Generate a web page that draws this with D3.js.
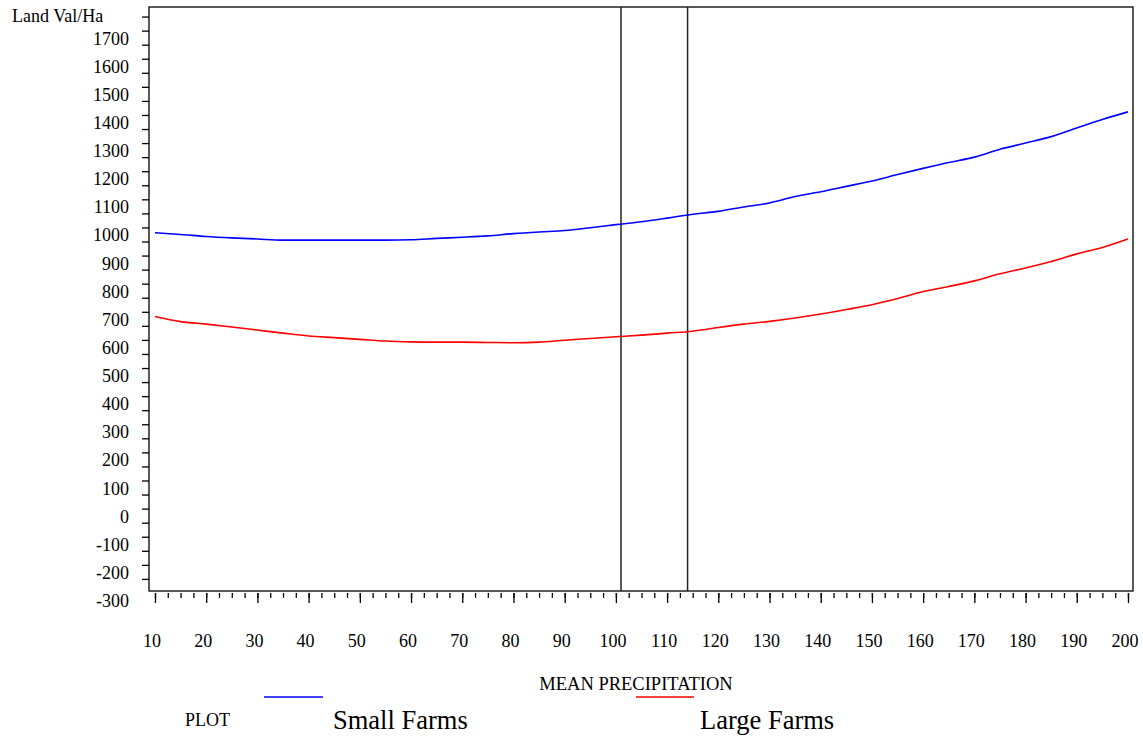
<!DOCTYPE html>
<html>
<head>
<meta charset="utf-8">
<script src="https://cdn.jsdelivr.net/npm/d3@7"></script>
<style>
  body { margin: 0; background: #fff; }
  svg { display: block; font-family: "Liberation Serif", "Times New Roman", serif; }
</style>
</head>
<body>
<svg id="chart" width="1143" height="741"></svg>
<script>
// precipitation values (x)
const precip = [10, 15, 20, 25, 30, 35, 40, 45, 50, 55, 60, 65, 70, 75, 80, 85, 90, 95, 100,
  105, 110, 115, 120, 125, 130, 135, 140, 145, 150, 155, 160, 165, 170, 175, 180, 185, 190, 195, 200];
// land value per hectare
const smallFarms = [1031, 1025, 1018, 1013, 1009, 1005, 1005, 1005, 1005, 1005, 1006, 1011, 1015, 1020,
  1028, 1034, 1039, 1049, 1060, 1070, 1083, 1097, 1107, 1123, 1137, 1160, 1177, 1196, 1215, 1238,
  1260, 1281, 1300, 1328, 1350, 1373, 1404, 1434, 1461];
const largeFarms = [733, 715, 706, 696, 685, 674, 664, 658, 652, 646, 643, 642, 642, 641, 640, 642,
  649, 655, 661, 667, 674, 681, 694, 706, 716, 728, 742, 758, 775, 797, 822, 840, 860, 885, 906,
  929, 956, 979, 1009];
const refLines = [101, 114];
const xLabels = d3.range(10, 201, 10);
const yLabels = d3.range(-300, 1701, 100);
const yTicks = d3.range(-200, 1801, 50);
const xMinorTicks = d3.range(10, 200.1, 2.5);

const svg = d3.select("#chart");
const plotL = 149, plotR = 1133, plotT = 7, plotB = 591;

const x = d3.scaleLinear().domain([8.83, 200.98]).range([plotL, plotR]);
const y = d3.scaleLinear().domain([-243, 1834]).range([plotB, plotT]);

// frame
svg.append("rect")
  .attr("x", plotL).attr("y", plotT)
  .attr("width", plotR - plotL).attr("height", plotB - plotT)
  .attr("fill", "none").attr("stroke", "#000").attr("stroke-width", 1.3);

// y ticks
const yAxis = svg.append("g")
  .attr("transform", `translate(${plotL},0)`)
  .call(d3.axisLeft(y).tickValues(yTicks).tickSize(7).tickFormat(""));
yAxis.select(".domain").remove();
yAxis.selectAll("line").attr("stroke", "#000").attr("stroke-width", 1.3);

svg.append("g").selectAll("text")
  .data(yLabels)
  .join("text")
  .attr("x", 129)
  .attr("y", d => y(d))
  .attr("text-anchor", "end")
  .style("font-size", "18px")
  .text(d => d);

svg.append("text")
  .attr("x", 12).attr("y", 22)
  .style("font-size", "18px")
  .text("Land Val/Ha");

// x ticks
const xMinor = svg.append("g")
  .attr("transform", `translate(0,${plotB + 2})`)
  .call(d3.axisBottom(x).tickValues(xMinorTicks).tickSize(5).tickFormat(""));
xMinor.select(".domain").remove();
xMinor.selectAll("line").attr("stroke", "#000").attr("stroke-width", 1.3);
const xMajor = svg.append("g")
  .attr("transform", `translate(0,${plotB + 2})`)
  .call(d3.axisBottom(x).tickValues(xLabels).tickSize(10).tickFormat(""));
xMajor.select(".domain").remove();
xMajor.selectAll("line").attr("stroke", "#000").attr("stroke-width", 1.3);

svg.append("g").selectAll("text")
  .data(xLabels)
  .join("text")
  .attr("x", d => x(d) - 3)
  .attr("y", 647)
  .attr("text-anchor", "middle")
  .style("font-size", "18px")
  .text(d => d);

// reference lines
svg.append("g").selectAll("line")
  .data(refLines)
  .join("line")
  .attr("x1", d => x(d)).attr("x2", d => x(d))
  .attr("y1", plotT).attr("y2", plotB)
  .attr("stroke", "#222").attr("stroke-width", 1.5);

// series
const line = d3.line()
  .x((d, i) => x(precip[i]))
  .y(d => y(d))
  .curve(d3.curveMonotoneX);

svg.append("path").datum(smallFarms)
  .attr("fill", "none").attr("stroke", "#0000ff").attr("stroke-width", 1.6)
  .attr("d", line);
svg.append("path").datum(largeFarms)
  .attr("fill", "none").attr("stroke", "#ff0000").attr("stroke-width", 1.6)
  .attr("d", line);

// axis title and legend
svg.append("text")
  .attr("x", 636).attr("y", 690)
  .attr("text-anchor", "middle")
  .style("font-size", "18.5px")
  .text("MEAN PRECIPITATION");

svg.append("text")
  .attr("x", 185).attr("y", 726)
  .style("font-size", "18px")
  .text("PLOT");

const legend = [
  {name: "Small Farms", color: "#0000ff", x1: 264, x2: 323, tx: 333},
  {name: "Large Farms", color: "#ff0000", x1: 636, x2: 694, tx: 700}
];
svg.append("g").selectAll("line")
  .data(legend)
  .join("line")
  .attr("x1", d => d.x1).attr("x2", d => d.x2)
  .attr("y1", 697).attr("y2", 697)
  .attr("stroke", d => d.color).attr("stroke-width", 1.6);
svg.append("g").selectAll("text")
  .data(legend)
  .join("text")
  .attr("x", d => d.tx).attr("y", 729)
  .style("font-size", "26.5px")
  .text(d => d.name);
</script>
</body>
</html>
